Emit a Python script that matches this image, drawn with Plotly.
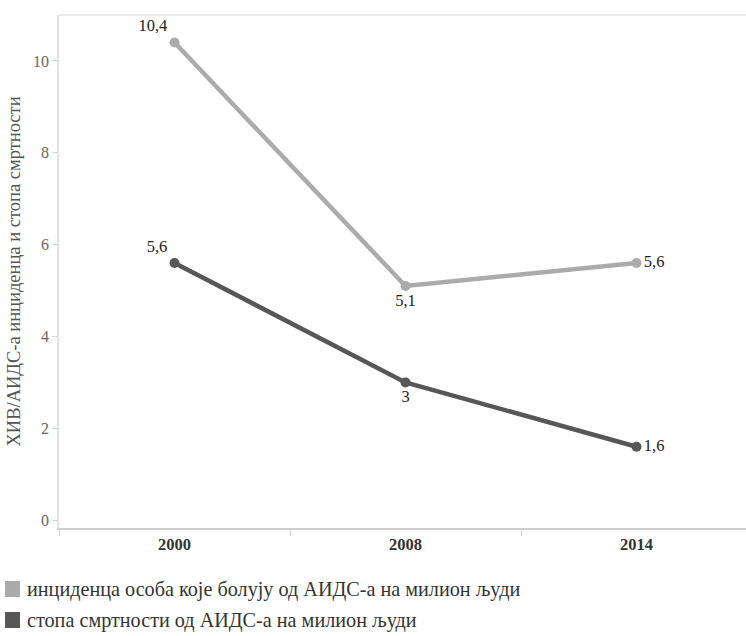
import plotly.graph_objects as go

years = ["2000", "2008", "2014"]
incidence = [10.4, 5.1, 5.6]
mortality = [5.6, 3.0, 1.6]
series_names = [
    "инциденца особа које болују од АИДС-а на милион људи",
    "стопа смртности од АИДС-а на милион људи",
]
series_colors = ["#ababab", "#575757"]
y_title = "ХИВ/АИДС-а инциденца и стопа смртности"
y_ticks = [0, 2, 4, 6, 8, 10]

def fmt(v):
    return f"{v:g}".replace(".", ",")

SERIF = "Times New Roman, Liberation Serif, serif"

fig = go.Figure()
positions = [
    ["top left", "bottom center", "middle right"],
    ["top left", "bottom center", "middle right"],
]
for vals, name, col, pos in zip([incidence, mortality], series_names, series_colors, positions):
    fig.add_trace(go.Scatter(
        x=years, y=vals, mode="lines+markers+text", name=name,
        line=dict(color=col, width=4.5),
        marker=dict(color=col, size=10),
        text=[fmt(v) for v in vals], textposition=pos,
        textfont=dict(family=SERIF, size=16.5, color="#222222"),
        showlegend=False, cliponaxis=False,
    ))

PW, PH = 687, 513
for name, col, ly in zip(series_names, series_colors, [589, 620]):
    fig.add_shape(type="rect", xref="paper", yref="paper",
                  x0=(5 - 59) / PW, x1=(20 - 59) / PW,
                  y0=(528 - (ly + 8)) / PH, y1=(528 - (ly - 8)) / PH,
                  fillcolor=col, line=dict(width=0))
    fig.add_annotation(xref="paper", yref="paper", x=(25 - 59) / PW,
                       y=(528 - ly) / PH, text=name, showarrow=False,
                       xanchor="left", yanchor="middle",
                       font=dict(family=SERIF, size=20.2, color="#333333"))

fig.add_shape(type="line", xref="paper", yref="paper", x0=0, x1=1, y0=1, y1=1,
              line=dict(color="#e6e6e6", width=1.5))

fig.update_layout(
    width=746, height=636,
    margin=dict(l=59, r=0, t=15, b=108),
    paper_bgcolor="white", plot_bgcolor="white",
    font=dict(family=SERIF),
    xaxis=dict(
        type="category", range=[-0.5, 2.474], automargin=False,
        showline=True, linecolor="#cfcfcf", linewidth=2,
        ticks="outside", tickson="boundaries", ticklen=6, tickcolor="#d5d5d5",
        tickfont=dict(family=SERIF, size=16.5, color="#333333", weight="bold"),
        showgrid=False, zeroline=False,
    ),
    yaxis=dict(
        range=[-0.17, 11.0], tickvals=y_ticks, automargin=False,
        showline=True, linecolor="#e3e3e3", linewidth=1.5,
        ticks="outside", ticklen=5, tickcolor="#d5d5d5",
        tickfont=dict(family=SERIF, size=16, color="#666666"),
        showgrid=False, zeroline=False,
        title=dict(text=y_title, font=dict(family=SERIF, size=18.5, color="#555555"), standoff=8),
    ),
)

fig.write_html("out.html", config={"displayModeBar": False},
               post_script="document.body.style.margin='0';")
